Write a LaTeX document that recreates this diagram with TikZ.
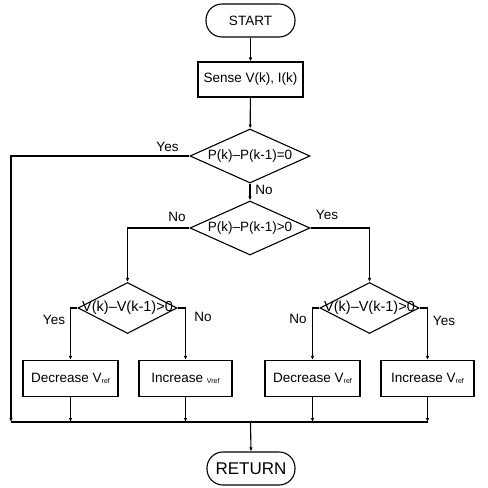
\documentclass[tikz,border=0pt]{standalone}
\usepackage{fontspec}
\setmainfont{Liberation Sans}
\usetikzlibrary{shapes.geometric,arrows.meta}
\begin{document}
\begin{tikzpicture}[x=1pt,y=-1pt,
  every node/.style={font=\fontsize{13.5}{15}\selectfont},
  term/.style={draw,line width=1.1pt,rounded corners=16pt,minimum width=89pt,minimum height=33pt,inner sep=0pt},
  procbox/.style={draw,line width=1.1pt,minimum height=36pt,inner sep=0pt},
  decision/.style={draw,diamond,line width=1.1pt,inner sep=0pt},
  lbl/.style={inner sep=0pt},
  arr/.style={line width=1.1pt,-{Latex[length=4pt,width=3.5pt]}},
  ln/.style={line width=1.1pt}]
\useasboundingbox (0,0) rectangle (488,488);
\node[term] (start) at (250.5,20.5) {START};
\node[procbox,minimum width=105pt,minimum height=35pt] (sense) at (250.5,79.5) {Sense V(k), I(k)};
\node[decision,minimum width=120pt,minimum height=54pt,label={center:P(k)--P(k-1)=0}] (d1) at (250,156) {};
\node[decision,minimum width=120pt,minimum height=54pt,label={center:P(k)--P(k-1)>0}] (d2) at (250,228) {};
\node[decision,minimum width=99pt,minimum height=51pt,label={[font=\fontsize{14.5}{16}\selectfont]center:V(k)--V(k-1)>0}] (d3) at (127.5,308) {};
\node[decision,minimum width=99pt,minimum height=51pt,label={[font=\fontsize{14.5}{16}\selectfont]center:V(k)--V(k-1)>0}] (d4) at (369.5,308) {};
\node[procbox,minimum width=95pt] (dec1) at (70.5,378.5) {Decrease V\raisebox{-1.5pt}{\scriptsize ref}};
\node[procbox,minimum width=93pt] (inc1) at (185.5,378.5) {Increase \raisebox{-1.5pt}{\scriptsize Vref}};
\node[procbox,minimum width=95pt] (dec2) at (312.5,378.5) {Decrease V\raisebox{-1.5pt}{\scriptsize ref}};
\node[procbox,minimum width=93pt] (inc2) at (427.5,378.5) {Increase V\raisebox{-1.5pt}{\scriptsize ref}};
\node[term,minimum width=88pt,font=\fontsize{17}{19}\selectfont] (ret) at (251,468.5) {RETURN};
\coordinate (busL) at (11,422);
\coordinate (busM) at (250.5,422);
% labels
\node[lbl] (y1) at (167.5,147) {Yes};
\node[lbl] (n1) at (264,190) {No};
\node[lbl] (n2) at (177,217) {No};
\node[lbl] (y2) at (327,215) {Yes};
\node[lbl] (y3) at (54,320) {Yes};
\node[lbl] (n3) at (203,317) {No};
\node[lbl] (n4) at (298,319) {No};
\node[lbl] (y4) at (444,321) {Yes};
% connectors
\draw[arr] (start) -- (sense);
\draw[arr] (sense) -- (d1);
\draw[arr] (d1) -- (d2);
\draw[arr] (d1.west) -| (busL);
\draw[arr] (d2.west) -| (d3.north);
\draw[arr] (d2.east) -| (d4.north);
\draw[arr] (d3.west) -| (dec1.north);
\draw[arr] (d3.east) -| (inc1.north);
\draw[arr] (d4.west) -| (dec2.north);
\draw[arr] (d4.east) -| (inc2.north);
\draw[arr] (dec1.south) -- (dec1.south |- busL);
\draw[arr] (inc1.south) -- (inc1.south |- busL);
\draw[arr] (dec2.south) -- (dec2.south |- busL);
\draw[arr] (inc2.south) -- (inc2.south |- busL);
\draw[ln] (busL) -- (inc2.south |- busL);
\draw[arr] (busM) -- (ret.north);
\end{tikzpicture}
\end{document}
